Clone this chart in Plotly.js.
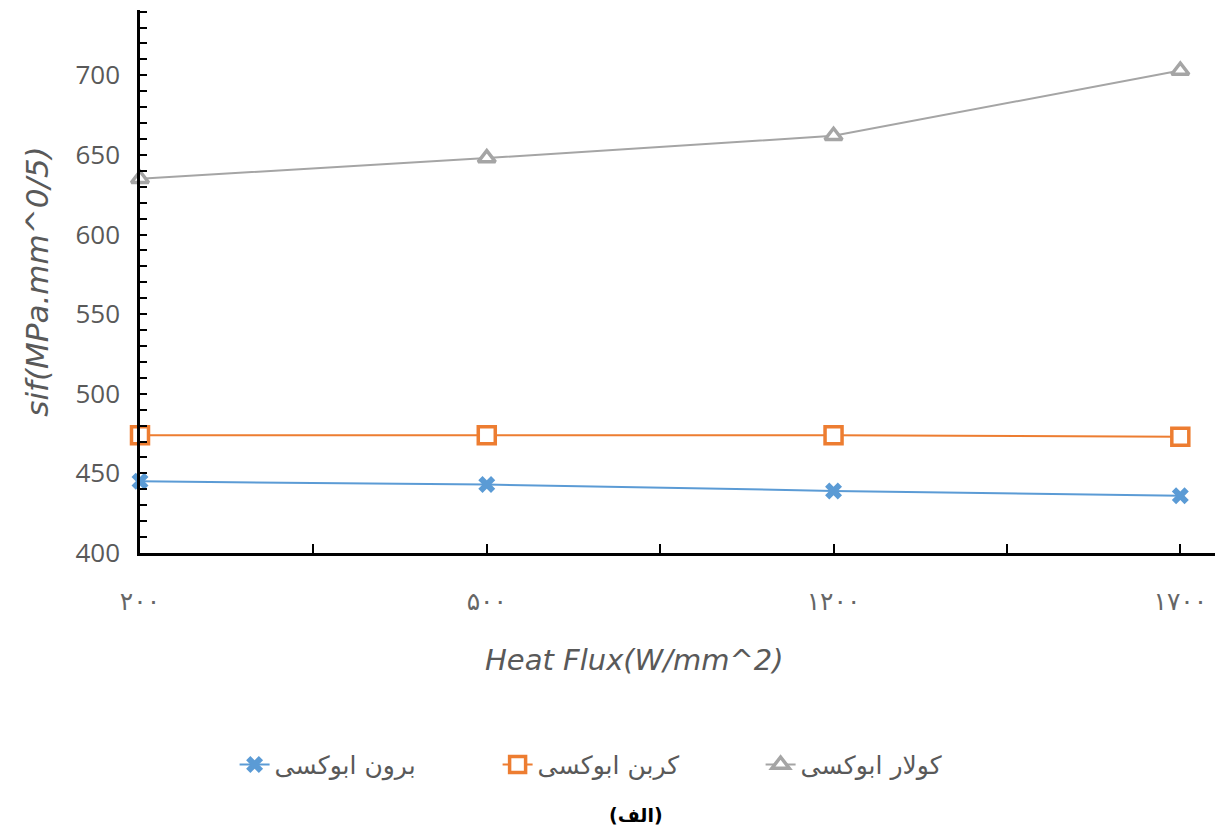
<!DOCTYPE html>
<html>
<head>
<meta charset="utf-8">
<script src="https://cdn.plot.ly/plotly-3.0.1.min.js"></script>
<style>html,body{margin:0;padding:0;background:#fff;}#chart{width:1219px;height:838px;}</style>
</head>
<body>
<div id="chart"></div>
<script>
const categories = ['۲۰۰', '۵۰۰', '۱۲۰۰', '۱۷۰۰'];
const boronEpoxy = [445, 443, 439, 436];
const carbonEpoxy = [474, 474, 474, 473];
const kevlarEpoxy = [635, 648, 662, 703];
const seriesNames = ['برون ابوکسی', 'کربن ابوکسی', 'کولار ابوکسی'];
const yTitle = 'sif(MPa.mm^0/5)';
const xTitle = 'Heat Flux(W/mm^2)';
const caption = '(الف)';

const xIdx = categories.map((c, i) => i);
const tickVals = [], tickText = [];
for (let i = 0; i < categories.length; i++) {
  tickVals.push(i); tickText.push(categories[i]);
  if (i < categories.length - 1) { tickVals.push(i + 0.5); tickText.push(''); }
}

const traces = [
  {x: xIdx, y: boronEpoxy, name: seriesNames[0], type: 'scatter', mode: 'lines+markers',
   line: {color: '#5B9BD5', width: 2}, marker: {symbol: 'x', size: 15, color: '#5B9BD5'}, cliponaxis: false},
  {x: xIdx, y: carbonEpoxy, name: seriesNames[1], type: 'scatter', mode: 'lines+markers',
   line: {color: '#ED7D31', width: 2}, marker: {symbol: 'square', size: 17, color: '#ffffff', line: {color: '#ED7D31', width: 3.5}}, cliponaxis: false},
  {x: xIdx, y: kevlarEpoxy, name: seriesNames[2], type: 'scatter', mode: 'lines+markers',
   line: {color: '#A5A5A5', width: 2}, marker: {symbol: 'triangle-up', size: 15, color: '#ffffff', line: {color: '#A5A5A5', width: 3.5}}, cliponaxis: false}
];

const layout = {
  width: 1219, height: 838,
  margin: {l: 140, r: 4, t: 10, b: 285},
  paper_bgcolor: '#fff', plot_bgcolor: '#fff',
  showlegend: true,
  legend: {orientation: 'h', x: 0.088, xanchor: 'left', y: -0.39, yanchor: 'middle',
    font: {family: 'DejaVu Sans', size: 25, color: '#595959'}, entrywidth: 218, entrywidthmode: 'pixels', traceorder: 'normal'},
  xaxis: {range: [0, 3.1], showgrid: false, zeroline: false, showline: true, linecolor: '#000', linewidth: 2.5,
    tickmode: 'array', tickvals: tickVals, ticktext: tickText, ticks: 'inside', ticklen: 9, tickwidth: 2, tickcolor: '#000',
    ticklabelstandoff: 24, tickfont: {family: 'DejaVu Sans', size: 25, color: '#666'}},
  yaxis: {range: [400, 741], showgrid: false, zeroline: false, showline: true, linecolor: '#000', linewidth: 2.5,
    tick0: 400, dtick: 50, ticks: 'inside', ticklen: 7, tickwidth: 2, tickcolor: '#000',
    minor: {dtick: 10, ticks: 'inside', ticklen: 7, tickwidth: 2, tickcolor: '#000'},
    ticklabelstandoff: 12, tickfont: {family: 'Open Sans', size: 26, color: '#595959'},
    title: {text: yTitle, standoff: 18, font: {family: 'DejaVu Sans', size: 31, color: '#595959', style: 'italic'}}},
  annotations: [
    {xref: 'x', yref: 'y', x: 3.115, y: 400, ax: -24, ay: 0, axref: 'pixel', ayref: 'pixel', text: '', showarrow: true,
     arrowhead: 2, arrowsize: 1, arrowwidth: 2.5, arrowcolor: '#000'},
    {xref: 'paper', yref: 'paper', x: 0.46, y: -0.197, text: xTitle, showarrow: false, xanchor: 'center', yanchor: 'middle',
     font: {family: 'DejaVu Sans', size: 29, color: '#595959', style: 'italic'}},
    {xref: 'paper', yref: 'paper', x: 0.461, y: -0.4825, text: '<b>' + caption + '</b>', showarrow: false, xanchor: 'center', yanchor: 'middle',
     font: {family: 'DejaVu Sans', size: 19, color: '#000'}}
  ]
};

Plotly.newPlot('chart', traces, layout, {displayModeBar: false, responsive: false});
</script>
</body>
</html>
